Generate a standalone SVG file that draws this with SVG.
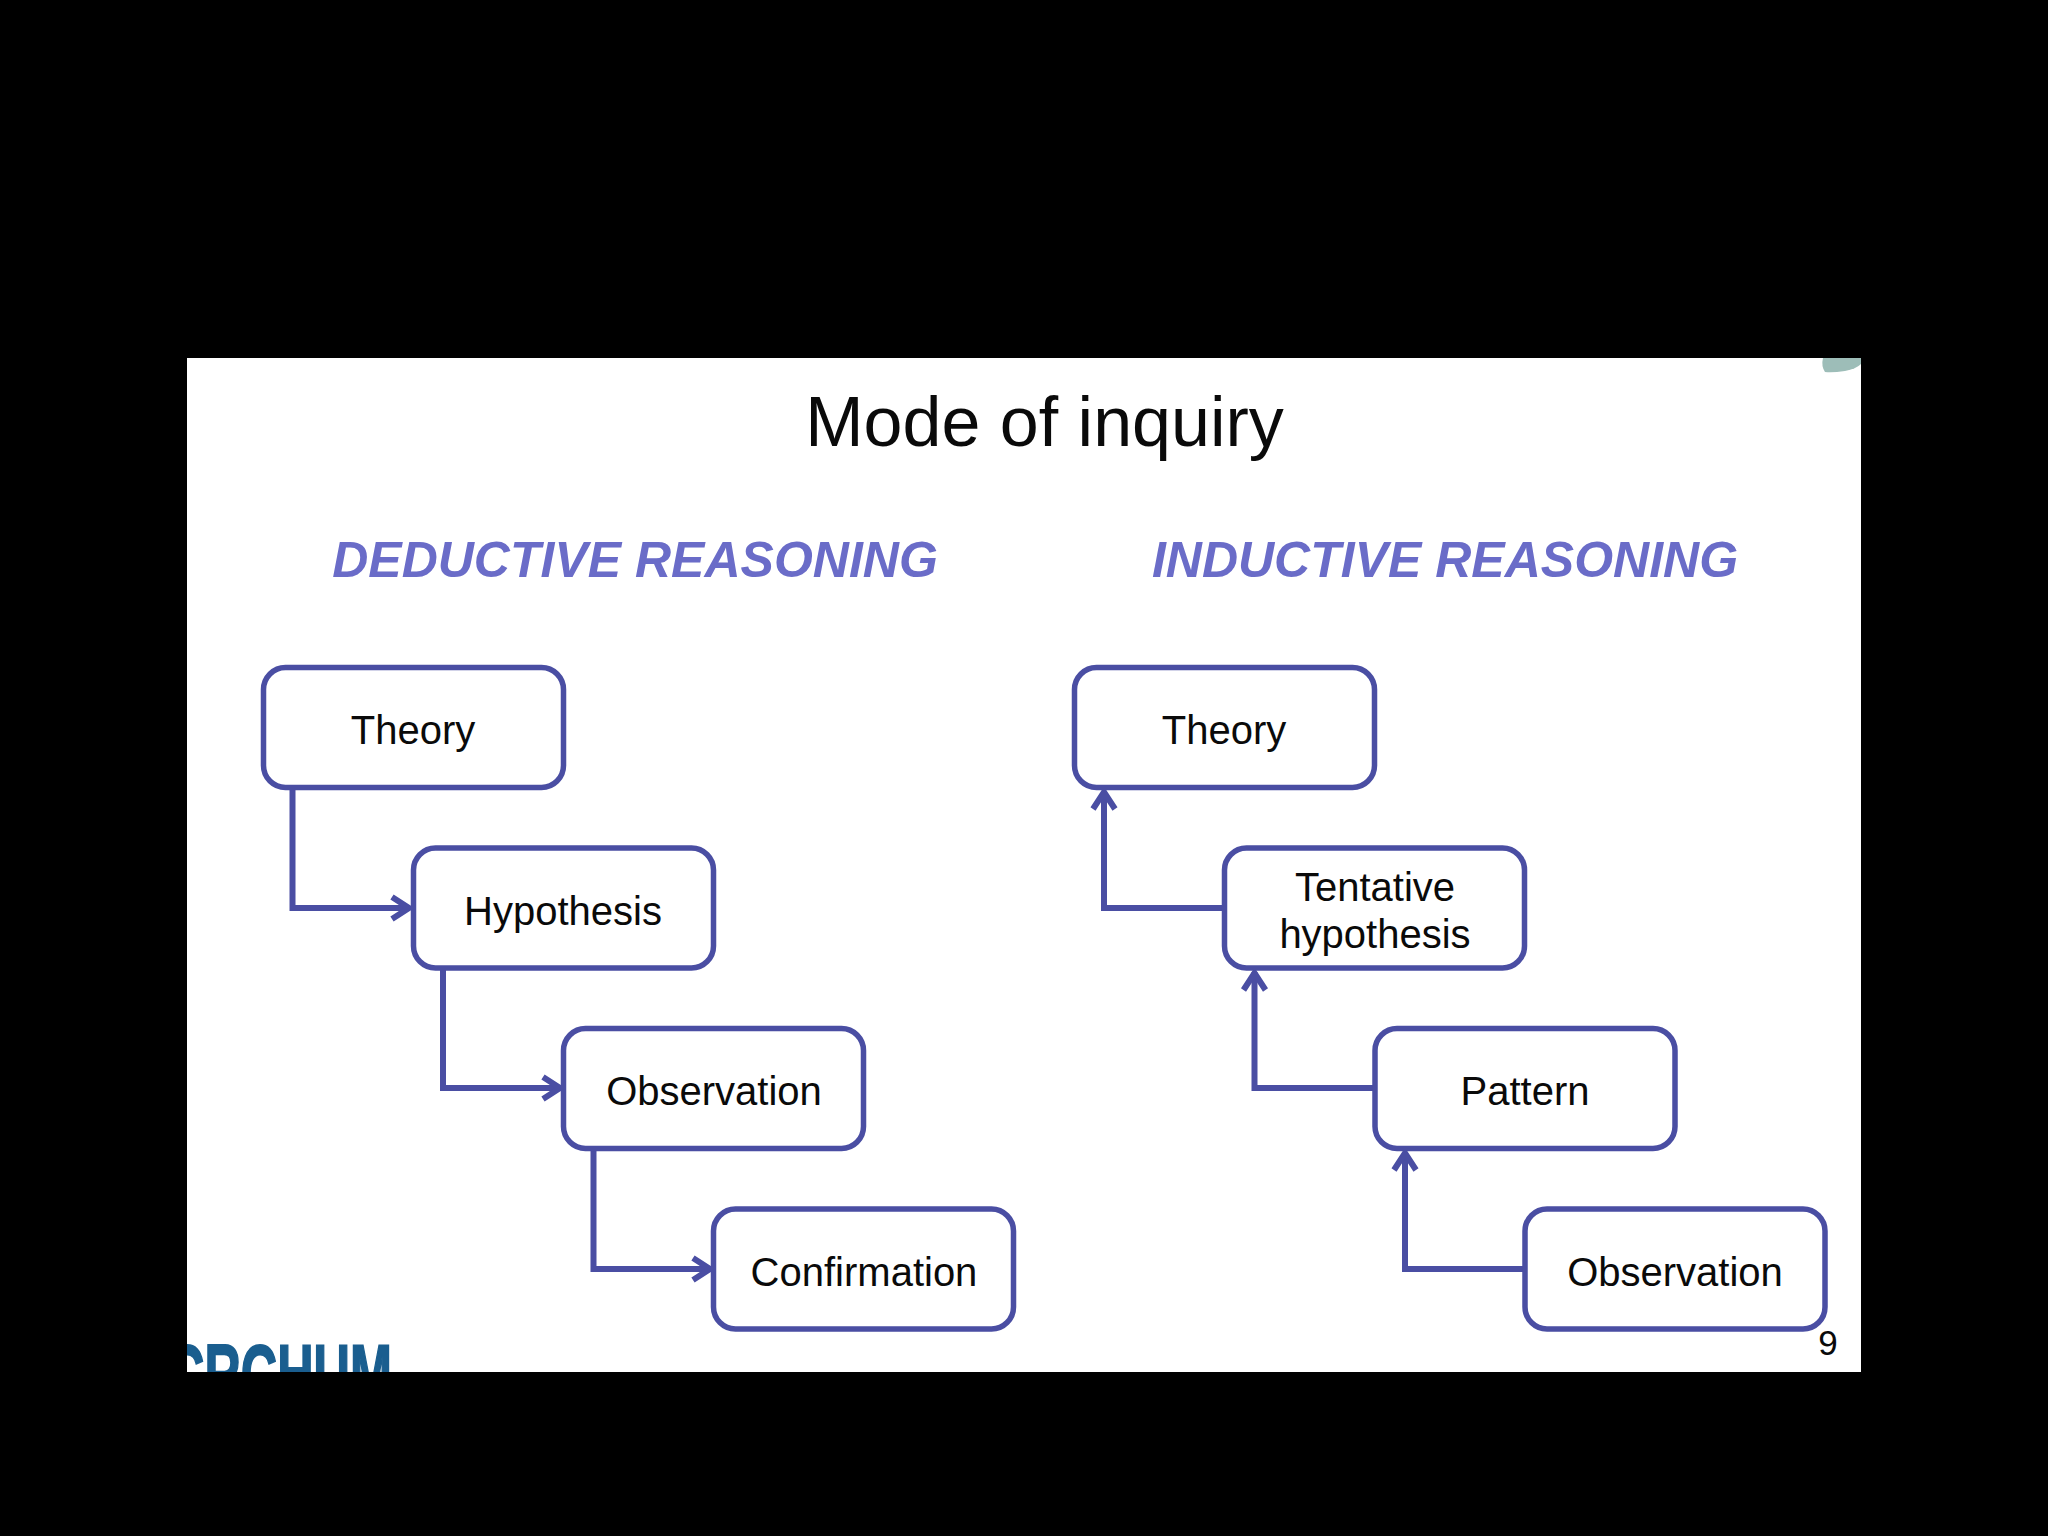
<svg xmlns="http://www.w3.org/2000/svg" width="2048" height="1536" viewBox="0 0 2048 1536">
<style>
text{font-family:"Liberation Sans",Arial,sans-serif;fill:#0a0a0a}
.box{fill:#fff;stroke:#4a4ea3;stroke-width:5.500}
.lbl{font-size:40px;text-anchor:middle}
.head{font-size:50px;font-weight:bold;font-style:italic;fill:#6a6cc8;text-anchor:middle}
.c{fill:none;stroke:#4a4ea3;stroke-width:6}
</style>
<defs>
<clipPath id="slide"><rect x="187" y="358" width="1674" height="1014"/></clipPath>
<marker id="arrow" markerUnits="userSpaceOnUse" markerWidth="28" markerHeight="30" refX="22" refY="15" orient="auto"><path d="M4 4 L21 15 L4 26" fill="none" stroke="#4a4ea3" stroke-width="6"/></marker>
</defs>
<rect width="2048" height="1536" fill="#000"/>
<rect x="187" y="358" width="1674" height="1014" fill="#fff"/>
<path d="M1823 358 L1861 358 L1861 364 Q1856 369 1845 371 Q1832 373 1825 372 Q1821 366 1823 358Z" fill="#9dbdb8"/>
<text x="1044.500" y="446" font-size="70" text-anchor="middle">Mode of inquiry</text>
<text x="635" y="577" class="head">DEDUCTIVE REASONING</text>
<text x="1445" y="577" class="head">INDUCTIVE REASONING</text>
<g clip-path="url(#slide)"><text x="168" y="1403" font-size="84" font-weight="bold" textLength="224" lengthAdjust="spacingAndGlyphs" style="fill:#1a5e8f;stroke:#1a5e8f;stroke-width:2">CRCHUM</text></g>
<text x="1828" y="1355" font-size="35" text-anchor="middle">9</text>
<g id="connectors">
<path class="c" marker-end="url(#arrow)" d="M292.500 787 V908 H410"/>
<path class="c" marker-end="url(#arrow)" d="M443 968 V1088 H561"/>
<path class="c" marker-end="url(#arrow)" d="M593.500 1148 V1269 H711"/>
<path class="c" marker-end="url(#arrow)" d="M1224 908 H1104 V791"/>
<path class="c" marker-end="url(#arrow)" d="M1375 1088 H1254.500 V972"/>
<path class="c" marker-end="url(#arrow)" d="M1525 1269 H1405 V1152"/>
</g>
<g id="d-theory"><rect class="box" x="263.500" y="667.500" width="300" height="120" rx="22"/><text class="lbl" x="413" y="744">Theory</text></g>
<g id="d-hypothesis"><rect class="box" x="413.500" y="848" width="300" height="120" rx="22"/><text class="lbl" x="563" y="925">Hypothesis</text></g>
<g id="d-observation"><rect class="box" x="563.500" y="1028.500" width="300" height="120" rx="22"/><text class="lbl" x="714" y="1105">Observation</text></g>
<g id="d-confirmation"><rect class="box" x="713.500" y="1209" width="300" height="120" rx="22"/><text class="lbl" x="864" y="1286">Confirmation</text></g>
<g id="i-theory"><rect class="box" x="1074.500" y="667.500" width="300" height="120" rx="22"/><text class="lbl" x="1224" y="744">Theory</text></g>
<g id="i-hypothesis"><rect class="box" x="1224.500" y="848" width="300" height="120" rx="22"/><text class="lbl" x="1375" y="901">Tentative</text><text class="lbl" x="1375" y="948">hypothesis</text></g>
<g id="i-pattern"><rect class="box" x="1375" y="1028.500" width="300" height="120" rx="22"/><text class="lbl" x="1525" y="1105">Pattern</text></g>
<g id="i-observation"><rect class="box" x="1525" y="1209" width="300" height="120" rx="22"/><text class="lbl" x="1675" y="1286">Observation</text></g>
</svg>
